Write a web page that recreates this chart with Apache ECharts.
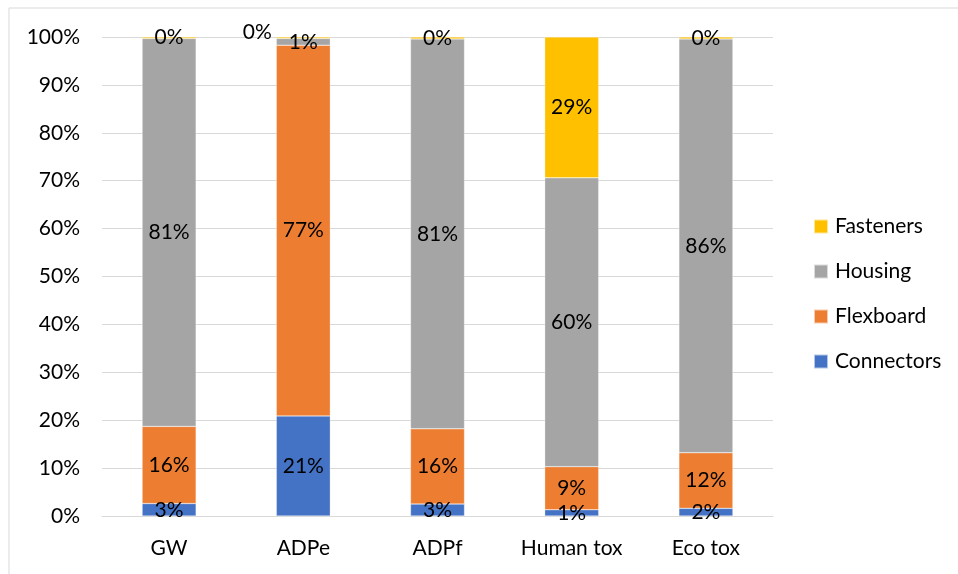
<!DOCTYPE html>
<html>
<head>
<meta charset="utf-8">
<script src="https://cdn.jsdelivr.net/npm/echarts@6/dist/echarts.min.js"></script>
<style>
  html, body { margin: 0; padding: 0; background: #fff; }
  #chart { width: 958px; height: 574px; }
</style>
</head>
<body>
<div id="chart"></div>
<script>
// Share of each component in the impact categories (%)
const categories = ['GW', 'ADPe', 'ADPf', 'Human tox', 'Eco tox'];
const connectors = [2.6, 20.9, 2.5, 1.3, 1.6];
const flexboard  = [16.1, 77.4, 15.7, 9.0, 11.6];
const housing    = [81.0, 1.4, 81.4, 60.3, 86.4];
const fasteners  = [0.3, 0.3, 0.4, 29.4, 0.4];
const yTicks = [0, 10, 20, 30, 40, 50, 60, 70, 80, 90, 100];

const FONT = 'Lato';
const TEXT = '#000';
const FS = 21;

const pct = p => Math.round(p.value) + '%';

function makeSeries(name, data, color, extraLabel) {
  return {
    name, type: 'bar', stack: 'total', barWidth: 54,
    itemStyle: { color, borderColor: 'rgba(255,255,255,0.6)', borderWidth: 0.5 },
    label: {
      show: true, position: 'inside', formatter: pct,
      color: TEXT, fontFamily: FONT, fontSize: FS
    },
    data: data.map((v, i) => (extraLabel && extraLabel[i]) ? { value: v, label: extraLabel[i] } : v)
  };
}

const chart = echarts.init(document.getElementById('chart'), null, { renderer: 'canvas' });
chart.setOption({
  animation: false,
  backgroundColor: '#fff',
  graphic: [{
    type: 'rect', shape: { x: 9, y: 8, width: 1000, height: 1000 },
    style: { fill: 'none', stroke: '#d9d9d9', lineWidth: 1 }, silent: true, z: -1
  }],
  grid: { left: 102, right: 185, top: 37, bottom: 58, containLabel: false },
  legend: {
    orient: 'vertical', left: 808, top: 211,
    itemWidth: 14, itemHeight: 14, itemGap: 24,
    icon: 'rect',
    data: ['Fasteners', 'Housing', 'Flexboard', 'Connectors'],
    textStyle: { color: TEXT, fontFamily: FONT, fontSize: FS, padding: [0, 0, 0, 2] }
  },
  xAxis: {
    type: 'category', data: categories,
    axisLine: { lineStyle: { color: '#d9d9d9', width: 1 } },
    axisTick: { show: false },
    axisLabel: { color: TEXT, fontFamily: FONT, fontSize: FS, margin: 22 }
  },
  yAxis: {
    type: 'value', min: 0, max: 100, interval: 10,
    axisLine: { show: false }, axisTick: { show: false },
    splitLine: { lineStyle: { color: '#d9d9d9', width: 1 } },
    axisLabel: {
      color: TEXT, fontFamily: FONT, fontSize: FS, margin: 22,
      formatter: v => yTicks.includes(v) ? v + '%' : ''
    }
  },
  series: [
    makeSeries('Connectors', connectors, '#4472C4'),
    makeSeries('Flexboard', flexboard, '#ED7D31'),
    makeSeries('Housing', housing, '#A5A5A5'),
    makeSeries('Fasteners', fasteners, '#FFC000',
      [null, { offset: [-46, -5] }, null, null, null])
  ]
});
</script>
</body>
</html>
